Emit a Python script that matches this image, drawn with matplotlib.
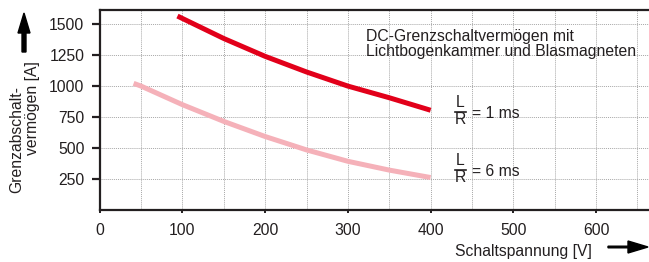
import matplotlib
matplotlib.use("Agg")
import matplotlib.pyplot as plt
import numpy as np

plt.rcParams['font.family'] = ['Liberation Sans', 'DejaVu Sans']

# data
x_1ms = [94, 150, 200, 250, 300, 350, 400]
y_1ms = [1565, 1384, 1240, 1114, 1000, 906, 805]
x_6ms = [41, 50, 100, 150, 200, 250, 300, 350, 400]
y_6ms = [1022, 1000, 850, 715, 593, 485, 393, 322, 262]

xticks = [0, 100, 200, 300, 400, 500, 600]
yticks = [250, 500, 750, 1000, 1250, 1500]

W, H = 649, 262
fig = plt.figure(figsize=(W / 100, H / 100), dpi=100)
ax = fig.add_axes([99.7 / W, 1 - 210 / H, 1 - 99.7 / W, 200 / H])

TXT = '#231f20'
ax.set_xlim(0, 664)
ax.set_ylim(0, 1614)

ax.plot(x_6ms, y_6ms, color='#f5b1b9', lw=3.6, solid_capstyle='butt', zorder=3)
ax.plot(x_1ms, y_1ms, color='#e2001a', lw=3.6, solid_capstyle='butt', zorder=3)

ax.set_xticks(xticks)
ax.set_yticks(yticks)
ax.set_xticks(np.arange(50, 664, 50), minor=True)
ax.grid(True, which='both', axis='x', color='#a8a8a8', ls=(0, (1, 1)), lw=0.7)
ax.grid(True, which='major', axis='y', color='#a8a8a8', ls=(0, (1, 1)), lw=0.7)
ax.tick_params(axis='x', which='minor', length=0)
ax.tick_params(axis='y', direction='out', length=6, width=1.6, color=TXT,
               labelsize=11.3, labelcolor=TXT, pad=5)
ax.tick_params(axis='x', which='major', direction='out', length=2.5, width=1.4, color=TXT,
               labelsize=11.3, labelcolor=TXT, pad=7)

for s in ['left', 'bottom', 'top']:
    ax.spines[s].set_linewidth(1.6)
    ax.spines[s].set_color(TXT)
ax.spines['right'].set_visible(False)

def fx(px):
    return px / W

def fy(py):
    return 1 - py / H

fs = 11.3
fig.text(fx(366), fy(41), 'DC-Grenzschaltvermögen mit', fontsize=fs, color=TXT, va='baseline')
fig.text(fx(366), fy(56), 'Lichtbogenkammer und Blasmagneten', fontsize=fs, color=TXT, va='baseline')

# L/R labels
for yl, lab in [(111.7, '= 1 ms'), (169.5, '= 6 ms')]:
    fig.text(fx(460), fy(yl - 1.5), 'L', fontsize=fs, color=TXT, ha='center', va='bottom')
    fig.text(fx(460), fy(yl + 0.5), 'R', fontsize=fs, color=TXT, ha='center', va='top')
    fig.add_artist(plt.Line2D([fx(455), fx(466)], [fy(yl), fy(yl)], color=TXT, lw=1.2))
    fig.text(fx(472), fy(yl + 1.5), lab, fontsize=fs, color=TXT, ha='left', va='center')

# axis labels
fig.text(fx(17), fy(193), 'Grenzabschalt-', fontsize=fs, color=TXT, rotation=90,
         ha='center', va='bottom')
fig.text(fx(33), fy(155), 'vermögen [A]', fontsize=fs, color=TXT, rotation=90,
         ha='center', va='bottom')
fig.text(fx(455), fy(256), 'Schaltspannung [V]', fontsize=fs, color=TXT, ha='left', va='baseline')

# arrows
fig.add_artist(matplotlib.patches.FancyArrow(fx(24), fy(52), 0, fy(13) - fy(52),
               width=1.6 / H, head_width=12 / W, head_length=20 / H,
               length_includes_head=True, color='black', transform=fig.transFigure))
fig.add_artist(matplotlib.patches.FancyArrow(fx(608), fy(247), fx(648) - fx(608), 0,
               width=1.6 / H, head_width=12 / H, head_length=20 / W,
               length_includes_head=True, color='black', transform=fig.transFigure))

fig.savefig('out.png', dpi=100)
